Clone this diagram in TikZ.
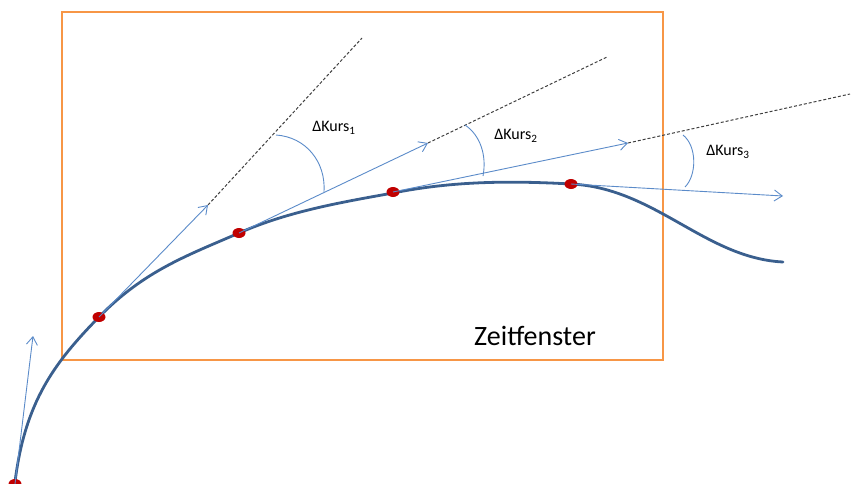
\documentclass[tikz,border=0pt]{standalone}
\usepackage{fontspec}
\setmainfont{Carlito}
\usetikzlibrary{arrows.meta,shapes.geometric}
\definecolor{curveblue}{HTML}{3A5F8E}
\definecolor{arrowblue}{HTML}{5B8BC9}
\definecolor{winorange}{HTML}{F79646}
\definecolor{dotred}{HTML}{C00000}
\tikzset{
  course/.style={draw=curveblue,line width=2.8pt,line cap=round},
  tangent/.style={draw=arrowblue,line width=0.9pt,-{Straight Barb[length=8pt,width=11pt,line width=0.9pt]}},
  extension/.style={draw=black!75,line width=1pt,dash pattern=on 3pt off 2pt},
  anglearc/.style={draw=arrowblue,line width=0.9pt},
  dot/.style={ellipse,fill=dotred,minimum width=13pt,minimum height=10pt,inner sep=0pt,outer sep=0pt},
  label/.style={font=\fontsize{16}{19}\selectfont,inner sep=0pt},
}
\begin{document}
\begin{tikzpicture}[x=1pt,y=-1pt]
\useasboundingbox (0,0) rectangle (851,483);
% window
\draw[winorange,line width=2.6pt] (62,12) rectangle (663,360);
\node[font=\fontsize{28}{32}\selectfont,inner sep=0pt] (zf) at (535,336) {Zeitfenster};
% course curve
\draw[course] (15,482) .. controls (25,402) and (54,363) .. (99,317)
  .. controls (144,271) and (186,256) .. (239,233)
  .. controls (289,211) and (343,202) .. (393,193)
  .. controls (453,181) and (510,180.6) .. (571,184)
  .. controls (655,188) and (705,258) .. (783,262);
% points
\node[dot] (p0) at (15,484) {};
\node[dot] (p1) at (99,317) {};
\node[dot] (p2) at (239,233) {};
\node[dot] (p3) at (393,192) {};
\node[dot] (p4) at (571,184) {};
% tangent tips and extensions
\coordinate (t0) at (33,336);
\coordinate (t1) at (208,205);
\coordinate (t2) at (428,143);
\coordinate (t3) at (628,143);
\coordinate (t4) at (783,196);
\coordinate (e1) at (362,38);
\coordinate (e2) at (607,57);
\coordinate (e3) at (850,94);
\draw[extension] (t1) -- (e1);
\draw[extension] (t2) -- (e2);
\draw[extension] (t3) -- (e3);
\draw[tangent] (p0.center) -- (t0);
\draw[tangent] (p1.center) -- (t1);
\draw[tangent] (p2.center) -- (t2);
\draw[tangent] (p3.center) -- (t3);
\draw[tangent] (p4.center) -- (t4);
% angle arcs
\draw[anglearc] (276,135) .. controls (306,137) and (326,162) .. (324,192);
\draw[anglearc] (465,125) .. controls (480,135) and (487,155) .. (483,176);
\draw[anglearc] (683,135) .. controls (697,146) and (697,175) .. (685,187);
% labels
\node[label] (k1) at (334,128) {ΔKurs\textsubscript{1}};
\node[label] (k2) at (516,136) {ΔKurs\textsubscript{2}};
\node[label] (k3) at (728,152) {ΔKurs\textsubscript{3}};
\end{tikzpicture}
\end{document}
